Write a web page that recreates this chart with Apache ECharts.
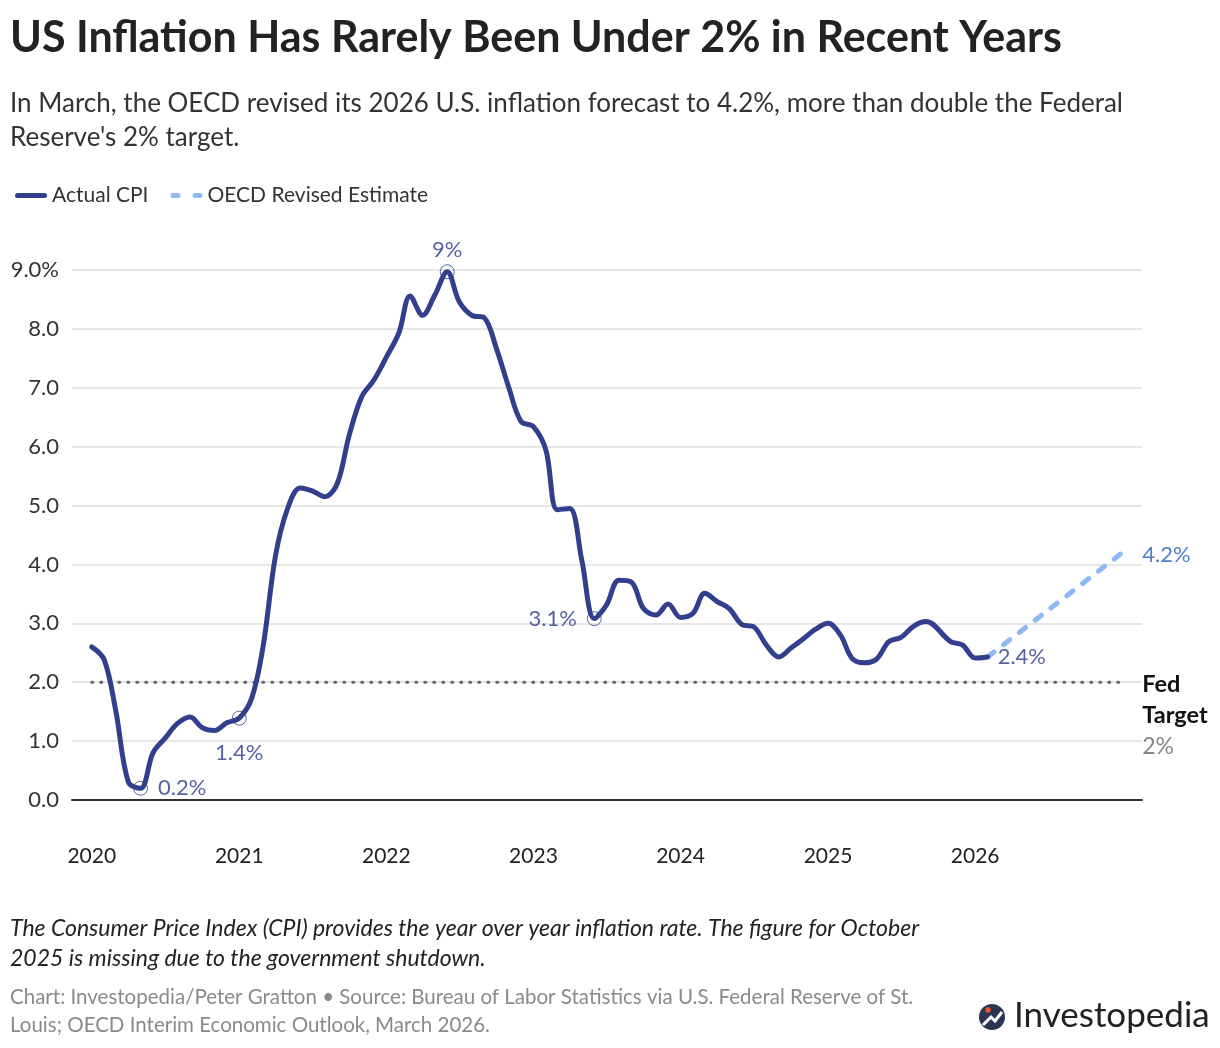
<!DOCTYPE html>
<html>
<head>
<meta charset="utf-8">
<script src="https://cdn.jsdelivr.net/npm/echarts@6/dist/echarts.min.js"></script>
<style>
html,body{margin:0;padding:0;background:#fff;}
#chart{width:1220px;height:1048px;}
</style>
</head>
<body>
<div id="chart"></div>
<script>
// ---- Data ----
const cpiStart = '2020-01';
const cpi2020 = [2.6, 2.38, 1.5, 0.3, 0.2, 0.8, 1.05, 1.3, 1.41, 1.23, 1.18, 1.31];
const cpi2021 = [1.39, 1.73, 2.6, 4.15, 4.95, 5.3, 5.25, 5.15, 5.37, 6.2, 6.85, 7.13];
const cpi2022 = [7.52, 7.93, 8.56, 8.23, 8.57, 8.97, 8.46, 8.23, 8.19, 7.67, 7.0, 6.43];
const cpi2023 = [6.34, 5.94, 4.93, 4.95, 4.07, 3.08, 3.31, 3.73, 3.70, 3.25, 3.14, 3.33];
const cpi2024 = [3.10, 3.17, 3.51, 3.37, 3.25, 2.98, 2.94, 2.63, 2.43, 2.58, 2.74, 2.90];
const cpi2025 = [3.0, 2.80, 2.41, 2.33, 2.39, 2.69, 2.76, 2.95, 3.03, null, 2.69, 2.63];
const cpi2026 = [2.41, 2.43];

const oecdDates = ['2026-02', '2027-01'];
const oecdValues = [2.43, 4.2];

const fedTargetValue = 2;
const fedTargetDates = ['2020-01', '2027-01'];

const annotations = [
  { date: '2020-05', label: '0.2%', pos: 'right' },
  { date: '2021-01', label: '1.4%', pos: 'bottom' },
  { date: '2022-06', label: '9%', pos: 'top' },
  { date: '2023-06', label: '3.1%', pos: 'left' },
  { date: '2026-02', label: '2.4%', pos: 'right', noMarker: true }
];

const xTickYears = [2020, 2021, 2022, 2023, 2024, 2025, 2026];
const yTicks = [0, 1, 2, 3, 4, 5, 6, 7, 8, 9];
const xRange = ['2019-11-13', '2027-02-19'];

// ---- Build ----
function toUTC(s) {
  const p = s.split('-').map(Number);
  return Date.UTC(p[0], p[1] - 1, p[2] || 1);
}
const cpiAll = [].concat(cpi2020, cpi2021, cpi2022, cpi2023, cpi2024, cpi2025, cpi2026);
const sp = cpiStart.split('-').map(Number);
const cpiData = [];
const cpiLookup = {};
cpiAll.forEach((v, i) => {
  const y = sp[0] + Math.floor((sp[1] - 1 + i) / 12);
  const m = (sp[1] - 1 + i) % 12;
  const t = Date.UTC(y, m, 1);
  cpiLookup[y + '-' + String(m + 1).padStart(2, '0')] = v;
  if (v !== null) cpiData.push([t, v]);
});
const oecdData = oecdDates.map((d, i) => [toUTC(d), oecdValues[i]]);
const fedData = fedTargetDates.map(d => [toUTC(d), fedTargetValue]);

const NAVY = '#323F8C';
const LIGHT = '#8DB9F6';
const FONT = 'Lato, "Noto Sans", sans-serif';

const annData = annotations.map(a => ({
  value: [toUTC(a.date), cpiLookup[a.date]],
  symbolSize: a.noMarker ? 0 : 14,
  label: {
    show: true,
    position: a.pos,
    distance: a.pos === 'bottom' ? 16 : (a.pos === 'top' ? 3 : 10),
    formatter: a.label
  }
}));

const chart = echarts.init(document.getElementById('chart'), null, { renderer: 'canvas' });

const option = {
  backgroundColor: '#fff',
  useUTC: true,
  animation: false,
  textStyle: { fontFamily: FONT },
  legend: {
    left: 10,
    top: 180,
    itemWidth: 32,
    itemHeight: 5,
    itemGap: 22,
    data: [
      { name: 'Actual CPI', icon: 'path://M2.5,0H29.5A2.5,2.5,0,0,1,29.5,5H2.5A2.5,2.5,0,0,1,2.5,0Z' },
      { name: 'OECD Revised Estimate', icon: 'path://M2.5,0H7.5A2.5,2.5,0,0,1,7.5,5H2.5A2.5,2.5,0,0,1,2.5,0Z M24.5,0H29.5A2.5,2.5,0,0,1,29.5,5H24.5A2.5,2.5,0,0,1,24.5,0Z' }
    ],
    textStyle: { fontSize: 21, color: '#333', fontFamily: FONT }
  },
  grid: { left: 72, right: 78, top: 270, bottom: 248 },
  xAxis: {
    type: 'time',
    min: toUTC(xRange[0]),
    max: toUTC(xRange[1]),
    axisLine: { show: true, lineStyle: { color: '#333', width: 2 } },
    axisTick: { show: false },
    splitLine: { show: false },
    axisLabel: {
      margin: 46,
      fontSize: 21,
      color: '#222',
      fontFamily: FONT,
      showMinLabel: false,
      showMaxLabel: false,
      formatter: function (v) {
        const d = new Date(v);
        const yr = d.getUTCFullYear();
        return (d.getUTCMonth() === 0 && d.getUTCDate() === 1 && xTickYears.indexOf(yr) >= 0) ? String(yr) : '';
      }
    }
  },
  yAxis: {
    type: 'value',
    min: yTicks[0],
    max: yTicks[yTicks.length - 1],
    interval: 1,
    axisLine: { show: false },
    axisTick: { show: false },
    splitLine: { lineStyle: { color: '#e6e6e6', width: 2 } },
    axisLabel: {
      margin: 13,
      fontSize: 22,
      color: '#333',
      fontFamily: FONT,
      formatter: function (v) {
        return v === yTicks[yTicks.length - 1] ? v.toFixed(1) + '%' : v.toFixed(1);
      }
    }
  },
  series: [
    {
      name: 'Fed Target',
      type: 'line',
      data: fedData,
      symbol: 'none',
      silent: true,
      z: 1,
      lineStyle: { color: '#666', width: 3, type: [1, 8], cap: 'round' },
      endLabel: {
        show: true,
        offset: [12, 33],
        formatter: '{b|Fed}\n{b|Target}\n{g|2%}',
        rich: {
          b: { fontSize: 23.5, fontWeight: 'bold', color: '#111', lineHeight: 31, fontFamily: FONT },
          g: { fontSize: 23, color: '#888', lineHeight: 31, fontFamily: FONT }
        }
      }
    },
    {
      name: 'OECD Revised Estimate',
      type: 'line',
      data: oecdData,
      symbol: 'none',
      z: 2,
      itemStyle: { color: LIGHT },
      lineStyle: { color: LIGHT, width: 5, type: [8, 12], cap: 'round' },
      endLabel: {
        show: true,
        distance: 20,
        offset: [0, 2],
        formatter: '4.2%',
        color: '#4F7FC9',
        fontSize: 22,
        fontFamily: FONT
      }
    },
    {
      name: 'Actual CPI',
      type: 'line',
      data: cpiData,
      symbol: 'none',
      smooth: 0.35,
      clip: false,
      z: 3,
      itemStyle: { color: NAVY },
      lineStyle: { color: NAVY, width: 5, cap: 'round', join: 'round' }
    },
    {
      name: 'Annotations',
      type: 'scatter',
      data: annData,
      symbol: 'circle',
      z: 4,
      clip: false,
      silent: true,
      itemStyle: { color: 'rgba(255,255,255,0)', borderColor: NAVY, borderWidth: 1 },
      label: { color: '#2E3A88', fontSize: 22, fontFamily: FONT }
    }
  ],
  graphic: [
    { type: 'text', left: 10, top: 17, style: { text: 'US Inflation Has Rarely Been Under 2% in Recent Years', fontSize: 43, fontWeight: 'bold', fontFamily: FONT, fill: '#222' } },
    { type: 'text', left: 10, top: 87, style: { text: "In March, the OECD revised its 2026 U.S. inflation forecast to 4.2%, more than double the Federal\nReserve's 2% target.", fontSize: 26, fontFamily: FONT, fill: '#333', lineHeight: 34 } },
    { type: 'text', left: 10, top: 914, style: { text: 'The Consumer Price Index (CPI) provides the year over year inflation rate. The figure for October\n2025 is missing due to the government shutdown.', fontSize: 23, fontStyle: 'italic', fontFamily: FONT, fill: '#222', lineHeight: 30 } },
    { type: 'text', left: 10, top: 983, style: { text: 'Chart: Investopedia/Peter Gratton \u2022 Source: Bureau of Labor Statistics via U.S. Federal Reserve of St.\nLouis; OECD Interim Economic Outlook, March 2026.', fontSize: 20.5, fontFamily: FONT, fill: '#8a8a8a', lineHeight: 28 } },
    { type: 'circle', shape: { cx: 992, cy: 1017, r: 13 }, style: { fill: '#2B3452' } },
    { type: 'polyline', shape: { points: [[983, 1025], [991, 1017], [995, 1021], [1002, 1012]] }, style: { stroke: '#fff', lineWidth: 3, fill: null } },
    { type: 'circle', shape: { cx: 988, cy: 1010, r: 2.8 }, style: { fill: '#E8542F' } },
    { type: 'text', left: 1014, top: 998, style: { text: 'Investopedia', fontSize: 35, fontFamily: FONT, fill: '#222' } }
  ]
};
chart.setOption(option);
</script>
</body>
</html>
